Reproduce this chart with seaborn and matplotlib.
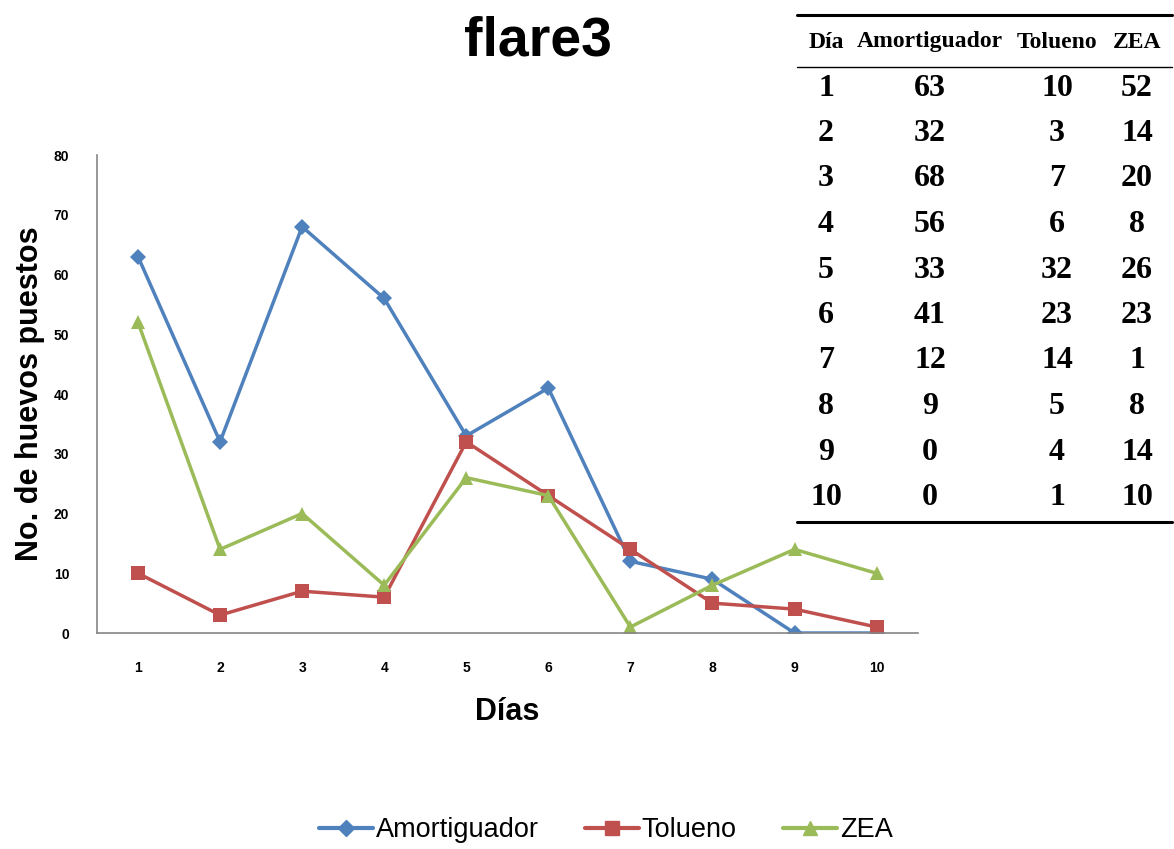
import matplotlib
matplotlib.use("Agg")
import matplotlib.pyplot as plt
import seaborn as sns
import pandas as pd
from matplotlib.lines import Line2D

dias = [1, 2, 3, 4, 5, 6, 7, 8, 9, 10]
amortiguador = [63, 32, 68, 56, 33, 41, 12, 9, 0, 0]
tolueno = [10, 3, 7, 6, 32, 23, 14, 5, 4, 1]
zea = [52, 14, 20, 8, 26, 23, 1, 8, 14, 10]
series_names = ["Amortiguador", "Tolueno", "ZEA"]
table_header = ["Día", "Amortiguador", "Tolueno", "ZEA"]
colors = ["#4F81BD", "#C0504D", "#9BBB59"]
markers = ["D", "s", "^"]

sns.set_theme(style="white")
plt.rcParams["font.family"] = ["Liberation Sans", "DejaVu Sans"]
plt.rcParams["text.color"] = "black"
plt.rcParams["axes.labelcolor"] = "black"
plt.rcParams["xtick.color"] = "black"
plt.rcParams["ytick.color"] = "black"

df = pd.DataFrame({"Día": dias, "Amortiguador": amortiguador,
                   "Tolueno": tolueno, "ZEA": zea})
long = df.melt(id_vars="Día", var_name="Serie", value_name="Huevos")

fig = plt.figure(figsize=(11.74, 8.49), dpi=100)
ax = fig.add_axes([0.0826, 0.2544, 0.699, 0.563])

sizes = {"D": 8, "s": 10, "^": 10}
sns.lineplot(data=long, x="Día", y="Huevos", hue="Serie", style="Serie",
             hue_order=series_names, style_order=series_names,
             palette=dict(zip(series_names, colors)),
             markers=dict(zip(series_names, markers)), dashes=False,
             linewidth=2.5, markersize=10, markeredgewidth=0, ax=ax, legend=False)
for line, m in zip(ax.lines, markers):
    line.set_markersize(sizes[m])

ax.set_xlim(0.5, 10.5)
ax.set_ylim(0, 80)
ax.set_xticks(dias)
ax.set_xticklabels([str(d) for d in dias], fontsize=10, fontweight="bold")
ax.set_yticks(range(0, 81, 10))
ax.set_yticklabels([str(v) for v in range(0, 81, 10)], fontsize=10, fontweight="bold")
ax.tick_params(axis="both", length=0)
ax.tick_params(axis="x", pad=20)
ax.tick_params(axis="y", pad=20)
for s in ["top", "right"]:
    ax.spines[s].set_visible(False)
for s in ["left", "bottom"]:
    ax.spines[s].set_color("#868686")
    ax.spines[s].set_linewidth(1.2)
ax.set_xlabel("Días", fontsize=22, fontweight="bold", labelpad=16)
ax.set_ylabel("No. de huevos puestos", fontsize=22, fontweight="bold", labelpad=6)

fig.text(0.458, 0.951, "flare3", ha="center", va="center",
         fontsize=40, fontweight="bold")

handles = [Line2D([0], [0], color=c, marker=m, lw=3, markersize=sizes[m])
           for c, m in zip(colors, markers)]
fig.legend(handles, series_names, loc="center", bbox_to_anchor=(0.516, 0.022),
           ncol=3, frameon=False, fontsize=19.5, handlelength=2.0,
           handletextpad=0.1, columnspacing=1.7)

# data table
W, H = 1174.0, 849.0
col_x = [826, 930, 1057, 1137]
header_y = 42
row_y0 = 88
row_dy = 45.5
serif = ["Liberation Serif", "DejaVu Serif"]
for x, h in zip(col_x, table_header):
    fig.text(x / W, 1 - header_y / H, h, ha="center", va="center",
             fontsize=17, fontweight="bold", family=serif)
for i, d in enumerate(dias):
    y = 1 - (row_y0 + i * row_dy) / H
    for x, v in zip(col_x, [d, amortiguador[i], tolueno[i], zea[i]]):
        fig.text(x / W, y, str(v), ha="center", va="center",
                 fontsize=23, fontweight="bold", family=serif)
for y, lw in [(15, 2.2), (67, 1.0), (522, 2.2)]:
    fig.add_artist(Line2D([797 / W, 1172 / W], [1 - y / H, 1 - y / H],
                          color="black", lw=lw, transform=fig.transFigure))

fig.savefig("out.png", dpi=100)
